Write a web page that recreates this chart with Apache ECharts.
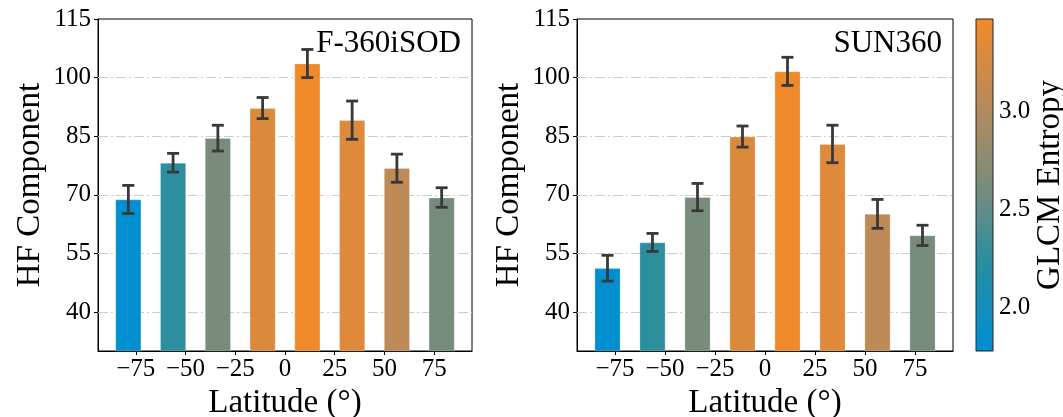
<!DOCTYPE html>
<html>
<head>
<meta charset="utf-8">
<script src="https://cdn.jsdelivr.net/npm/echarts@6/dist/echarts.min.js"></script>
<style>html,body{margin:0;padding:0;background:#fff;}#c{width:1063px;height:417px;}</style>
</head>
<body>
<div id="c"></div>
<script>
// ---- data ----
const latitudes = [-78.75, -56.25, -33.75, -11.25, 11.25, 33.75, 56.25, 78.75];
const entropy = [1.80, 2.25, 2.62, 3.30, 3.45, 3.32, 3.08, 2.60];
const f360Values = [68.8, 78.2, 84.5, 92.2, 103.6, 89.1, 76.8, 69.3];
const f360Errors = [3.6, 2.4, 3.3, 2.7, 3.6, 4.9, 3.6, 2.5];
const sunValues = [51.2, 57.8, 69.4, 84.9, 101.6, 83.0, 65.1, 59.6];
const sunErrors = [3.3, 2.3, 3.5, 2.7, 3.6, 4.8, 3.7, 2.6];
const xTicks = [-75, -50, -25, 0, 25, 50, 75];
const yTicks = [40, 55, 70, 85, 100, 115];
const cbTicks = [2.0, 2.5, 3.0];
const xRange = [-94, 94];
const yRange = [30, 115];
const entropyRange = [1.78, 3.47];
const cmapColors = ['#008fd2', '#238ea5', '#7a8c7a', '#b98a5c', '#f28a28'];
const titles = ['F-360iSOD', 'SUN360'];

const FONT = '"Liberation Serif", "Times New Roman", serif';
const chart = echarts.init(document.getElementById('c'), null, {renderer: 'canvas'});

function fmtX(v) { return v < 0 ? '\u2212' + Math.abs(v) : String(v); }

function errRender(params, api) {
  const x = api.value(0), v = api.value(1), e = api.value(2);
  const t = api.coord([x, v + e]);
  const b = api.coord([x, v - e]);
  const hw = 6;
  const st = {stroke: '#383838', lineWidth: 2.8};
  return {type: 'group', children: [
    {type: 'line', shape: {x1: t[0], y1: t[1], x2: b[0], y2: b[1]}, style: st},
    {type: 'line', shape: {x1: t[0] - hw, y1: t[1], x2: t[0] + hw, y2: t[1]}, style: st},
    {type: 'line', shape: {x1: b[0] - hw, y1: b[1], x2: b[0] + hw, y2: b[1]}, style: st}
  ]};
}

function cbRender(params, api) {
  const p0 = api.coord([0, api.value(0)]);
  const p1 = api.coord([1, api.value(1)]);
  const stops = cmapColors.map((c, i) => ({offset: i / (cmapColors.length - 1), color: c}));
  return {type: 'rect', shape: {x: p0[0], y: p1[1], width: p1[0] - p0[0], height: p0[1] - p1[1]},
    style: {fill: new echarts.graphic.LinearGradient(0, 1, 0, 0, stops), stroke: '#222', lineWidth: 1}};
}

const axisText = {color: '#000', fontFamily: FONT, fontSize: 25};
const nameText = {color: '#000', fontFamily: FONT, fontSize: 33};

function xAxis(gi) {
  return {type: 'value', gridIndex: gi, min: xRange[0], max: xRange[1],
    name: 'Latitude (°)', nameLocation: 'middle', nameGap: 23, nameTextStyle: nameText,
    axisLine: {show: true, onZero: false, lineStyle: {color: '#000', width: 1}},
    axisTick: {show: true, inside: false, length: 4, customValues: xTicks, lineStyle: {color: '#000'}},
    axisLabel: {show: true, margin: 6, customValues: xTicks, formatter: fmtX, ...axisText},
    splitLine: {show: false}};
}
function yAxis(gi) {
  return {type: 'value', gridIndex: gi, min: yRange[0], max: yRange[1],
    name: 'HF Component', nameLocation: 'middle', nameGap: 51, nameTextStyle: nameText,
    axisLine: {show: true, onZero: false, lineStyle: {color: '#000', width: 1}},
    axisTick: {show: true, inside: false, length: 4, customValues: yTicks, lineStyle: {color: '#000'}},
    axisLabel: {show: true, margin: 7, customValues: yTicks, ...axisText},
    splitLine: {show: false}};
}

function gridLineSeries(gi) {
  return {type: 'line', xAxisIndex: gi, yAxisIndex: gi, data: [], silent: true, z: 1,
    markLine: {silent: true, symbol: 'none', label: {show: false}, z: 1,
      lineStyle: {color: '#cccccc', width: 1.2, type: [10, 3, 2, 3]},
      data: yTicks.filter(v => v < yRange[1]).map(v => ({yAxis: v}))}};
}

function barData(vals) { return latitudes.map((x, i) => [x, vals[i], entropy[i]]); }
function errData(vals, errs) { return latitudes.map((x, i) => [x, vals[i], errs[i]]); }

const option = {
  backgroundColor: '#fff',
  animation: false,
  textStyle: {fontFamily: FONT, color: '#000'},
  title: [
    {text: titles[0], right: 597, top: 23, textStyle: {fontFamily: FONT, fontSize: 31, fontWeight: 'normal', color: '#000'}},
    {text: titles[1], right: 116, top: 23, textStyle: {fontFamily: FONT, fontSize: 31, fontWeight: 'normal', color: '#000'}}
  ],
  grid: [
    {left: 98, top: 19, width: 374, height: 332, show: true, borderColor: '#000', borderWidth: 1, containLabel: false, outerBoundsMode: 'none'},
    {left: 577, top: 19, width: 376, height: 332, show: true, borderColor: '#000', borderWidth: 1, containLabel: false, outerBoundsMode: 'none'},
    {left: 976, top: 19, width: 17, height: 332, show: false, containLabel: false, outerBoundsMode: 'none'}
  ],
  xAxis: [xAxis(0), xAxis(1),
    {type: 'value', gridIndex: 2, min: 0, max: 1, show: false}],
  yAxis: [yAxis(0), yAxis(1),
    {type: 'value', gridIndex: 2, position: 'right', min: entropyRange[0], max: entropyRange[1],
      name: 'GLCM Entropy', nameLocation: 'middle', nameRotate: 90, nameGap: 36, nameTextStyle: nameText,
      axisLine: {show: false},
      axisTick: {show: true, inside: false, length: 4, customValues: cbTicks, lineStyle: {color: '#000'}},
      axisLabel: {show: true, margin: 6, customValues: cbTicks, formatter: v => v.toFixed(1), ...axisText},
      splitLine: {show: false}}],
  visualMap: {type: 'continuous', show: false, min: entropyRange[0], max: entropyRange[1],
    dimension: 2, seriesIndex: [2, 4], inRange: {color: cmapColors}},
  series: [
    gridLineSeries(0),
    gridLineSeries(1),
    {type: 'bar', xAxisIndex: 0, yAxisIndex: 0, barWidth: 26, z: 3, data: barData(f360Values),
      itemStyle: {borderColor: 'rgba(255,255,255,0.3)', borderWidth: 0.8}},
    {type: 'custom', xAxisIndex: 0, yAxisIndex: 0, z: 5, renderItem: errRender, encode: {x: 0, y: 1},
      data: errData(f360Values, f360Errors)},
    {type: 'bar', xAxisIndex: 1, yAxisIndex: 1, barWidth: 26, z: 3, data: barData(sunValues),
      itemStyle: {borderColor: 'rgba(255,255,255,0.3)', borderWidth: 0.8}},
    {type: 'custom', xAxisIndex: 1, yAxisIndex: 1, z: 5, renderItem: errRender, encode: {x: 0, y: 1},
      data: errData(sunValues, sunErrors)},
    {type: 'custom', xAxisIndex: 2, yAxisIndex: 2, z: 2, renderItem: cbRender,
      data: [[entropyRange[0], entropyRange[1]]]}
  ]
};
chart.setOption(option);
</script>
</body>
</html>
